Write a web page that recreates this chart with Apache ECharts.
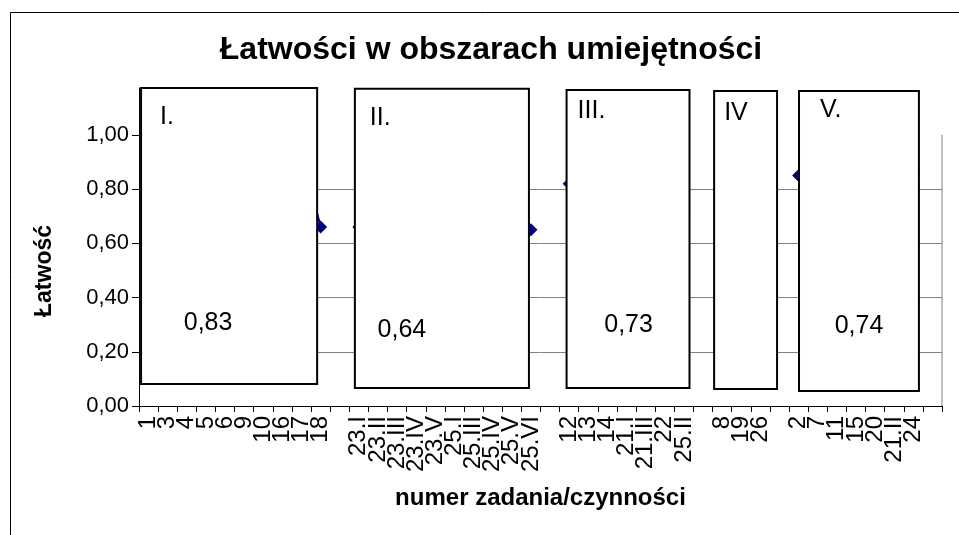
<!DOCTYPE html>
<html><head><meta charset="utf-8">
<script src="https://cdn.jsdelivr.net/npm/echarts@6/dist/echarts.min.js"></script>
<style>html,body{margin:0;padding:0;background:#fff}#c{width:959px;height:535px}</style>
</head><body><div id="c"></div>
<script>
const categories = ['1','3','4','5','6','9','10','16','17','18',' ',
  '23.I','23.II','23.III','23.IV','23.V','25.I','25.III','25.IV','25.V','25.VI','  ',
  '12','13','14','21.I','21.III','22','25.II','   ',
  '8','19','26','    ',
  '2','7','11','15','20','21.II','24','     '];
const values = [0.90,0.85,0.88,0.80,0.78,0.92,0.75,0.82,0.94,0.66,null,
  0.66,0.60,0.55,0.70,0.62,0.72,0.58,0.63,0.69,0.65,null,
  0.82,0.70,0.68,0.75,0.62,0.81,0.73,null,
  0.70,0.78,0.66,null,
  0.85,0.70,0.62,0.75,0.68,0.73,0.85,null];
const yTicks = [0, 0.2, 0.4, 0.6, 0.8, 1.0];
const groupNames = ['I.', 'II.', 'III.', 'IV', 'V.'];
const groupMeans = ['0,83', '0,64', '0,73', '', '0,74'];
const groupFirst = ['1', '23.I', '12', '8', '2'];
const groupLast = ['18', '25.VI', '25.II', '26', '24'];
const yAxisTitle = 'Łatwość';

// box layout (annotation boxes): px offsets from first/last category centres, y extents in axis units
const boxLayout = [
  {l:-7.5, r:-3.5, top:1.173, bot:0.081, nx:19, ny:29, mx:67, my:235},
  {l:-4,   r:-2,   top:1.170, bot:0.066, nx:15, ny:29, mx:47, my:241},
  {l:-2.6, r:5.6,  top:1.166, bot:0.066, nx:11, ny:21, mx:62, my:235},
  {l:-8,   r:16.7, top:1.162, bot:0.063, nx:10, ny:22, mx:0,  my:0},
  {l:0.4,  r:5.6,  top:1.162, bot:0.055, nx:21, ny:19, mx:60, my:235}
];
const FONT = '"Liberation Sans", Arial, sans-serif';
const chart = echarts.init(document.getElementById('c'));
chart.setOption({
  animation: false,
  backgroundColor: '#fff',
  title: {
    text: 'Łatwości w obszarach umiejętności',
    left: 491, top: 34, padding: 0, textAlign: 'center',
    textStyle: {fontSize: 32, fontWeight: 'bold', fontFamily: FONT, color: '#000'}
  },
  grid: {left: 139, right: 17, top: 88, bottom: 129},
  xAxis: {
    type: 'category', data: categories, boundaryGap: true,
    name: 'numer zadania/czynności', nameLocation: 'middle', nameGap: 80,
    nameTextStyle: {fontSize: 24, fontWeight: 'bold', fontFamily: FONT, color: '#000'},
    axisLine: {lineStyle: {color: '#000', width: 1}},
    axisTick: {show: true, interval: 0, length: 6, lineStyle: {color: '#000'}},
    axisLabel: {rotate: 90, interval: 0, fontSize: 24, margin: 10, color: '#000', fontFamily: FONT},
    splitLine: {show: false}
  },
  yAxis: {
    type: 'value', min: 0, max: 1.173, interval: 0.2,
    axisLine: {show: true, lineStyle: {color: '#000', width: 1}},
    axisTick: {show: true, length: 7, lineStyle: {color: '#000'}, customValues: yTicks},
    axisLabel: {
      fontSize: 22, margin: 10, color: '#000', fontFamily: FONT, customValues: yTicks,
      formatter: v => yTicks.some(t => Math.abs(t - v) < 1e-6) ? v.toFixed(2).replace('.', ',') : ''
    },
    splitLine: {show: true, showMaxLine: false, lineStyle: {color: '#808080', width: 1}}
  },
  series: [{
    type: 'line', data: values, connectNulls: false,
    symbol: 'diamond', symbolSize: 13,
    itemStyle: {color: '#000080'},
    lineStyle: {color: '#000080', width: 2}
  }]
});

const px = (i, v) => chart.convertToPixel({gridIndex: 0}, [i, v]);
const step = px(1, 0)[0] - px(0, 0)[0];
const els = [];
els.push({type: 'rect', z: 1, silent: true,
  shape: {x: 10.5, y: 12.5, width: 1100, height: 700},
  style: {fill: 'none', stroke: '#000', lineWidth: 1}});
const xr = px(categories.length - 1, 0)[0] + step / 2;
els.push({type: 'line', z: 1, silent: true,
  shape: {x1: xr, y1: px(0, 0)[1], x2: xr, y2: px(0, 1.0)[1]},
  style: {stroke: '#808080', lineWidth: 1}});
els.push({type: 'text', z: 1, silent: true, x: 45, y: 271, rotation: Math.PI / 2,
  style: {text: yAxisTitle, fontSize: 23, fontWeight: 'bold', fontFamily: FONT, fill: '#000',
    align: 'center', verticalAlign: 'middle'}});
groupNames.forEach((name, g) => {
  const L = boxLayout[g];
  const i0 = categories.indexOf(groupFirst[g]);
  const i1 = categories.indexOf(groupLast[g]);
  const x0 = px(i0, 0)[0] + L.l;
  const x1 = px(i1, 0)[0] + L.r;
  const y0 = px(i0, L.top)[1];
  const y1 = px(i0, L.bot)[1];
  els.push({type: 'rect', z: 100, silent: true,
    shape: {x: x0, y: y0, width: x1 - x0, height: y1 - y0},
    style: {fill: '#fff', stroke: '#000', lineWidth: 2}});
  els.push({type: 'text', z: 101, silent: true, x: x0 + L.nx, y: y0 + L.ny,
    style: {text: name, fontSize: 25, fontFamily: FONT, fill: '#000', align: 'left', verticalAlign: 'middle'}});
  if (groupMeans[g]) {
    els.push({type: 'text', z: 101, silent: true, x: x0 + L.mx, y: y0 + L.my,
      style: {text: groupMeans[g], fontSize: 25, fontFamily: FONT, fill: '#000', align: 'center', verticalAlign: 'middle'}});
  }
});
chart.setOption({graphic: {elements: els}});
</script></body></html>
